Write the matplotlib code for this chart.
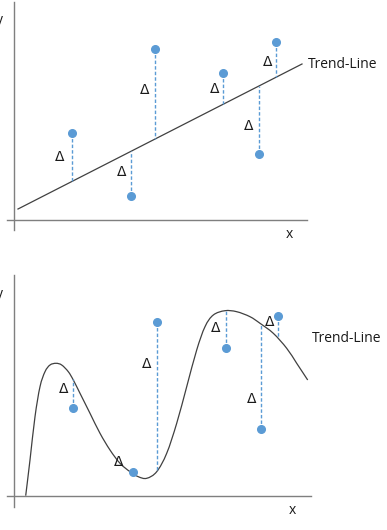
import numpy as np
import matplotlib
matplotlib.use("Agg")
import matplotlib.pyplot as plt
from matplotlib.path import Path
from matplotlib.patches import PathPatch

plt.rcParams['font.family'] = ['Open Sans', 'DejaVu Sans']

# ---------------- data (diagram units = pixels, y downward) ----------------
# top panel: linear trend line
top_trend_x = [18, 302]
top_trend_y = [209, 64]
top_pts_x = [71.7, 131, 155, 223, 259, 276]
top_pts_y = [133, 196, 49, 73, 154, 42]
top_delta_x = [60, 122, 145, 215, 249, 268]
top_delta_y = [157, 172, 90, 89, 126, 62]

# bottom panel: curved trend line
bot_curve_x = [25.7, 30, 35, 40, 45, 50, 56, 61.7, 68.3, 73.3, 80, 90, 100, 110,
               120, 130, 138.3, 146.7, 156.7, 166.7, 176.7, 186.7, 196.7, 205,
               213.3, 225, 236.7, 250, 260, 273.3, 286.7, 296.7, 307.7]
bot_curve_y = [495.7, 460, 416.7, 386.7, 371.7, 365, 363.3, 365, 371.7, 380,
               393.3, 413.3, 433.3, 450, 463.3, 471.7, 476.7, 478.3, 471.7, 453.3,
               423.3, 386.7, 350, 326.7, 315, 310.7, 311.7, 316.7, 323.3, 333.3,
               348.3, 363.3, 380]
bot_pts_x = [72.7, 132.7, 156.7, 225.7, 261, 277.7]
bot_pts_y = [407.7, 471.7, 322.3, 347.7, 429, 315.7]
bot_delta_x = [63.3, 118.3, 146.7, 216, 251.7, 269.3]
bot_delta_y = [389, 461.7, 364, 328.3, 399, 321.7]

W, H = 387, 530
fig = plt.figure(figsize=(W / 100, H / 100), dpi=100)
ax = fig.add_axes([0, 0, 1, 1])
ax.set_xlim(0, W)
ax.set_ylim(H, 0)
ax.axis('off')

axis_col = '#7f7f7f'
trend_col = '#404040'
dot_col = '#5b9bd5'
txt_col = '#1a1a1a'
fs_delta = 10
fs_lab = 10
delta_font = ['DejaVu Sans']

def smooth_path(xs, ys):
    P = np.column_stack([xs, ys])
    n = len(P)
    verts = [P[0]]
    codes = [Path.MOVETO]
    for i in range(n - 1):
        p0 = P[i - 1] if i > 0 else P[i]
        p1 = P[i]
        p2 = P[i + 1]
        p3 = P[i + 2] if i + 2 < n else P[i + 1]
        c1 = p1 + (p2 - p0) / 6
        c2 = p2 - (p3 - p1) / 6
        verts += [c1, c2, p2]
        codes += [Path.CURVE4] * 3
    return Path(verts, codes)

# ---- top panel ----
ax.plot([14, 14], [2, 230], color=axis_col, lw=1)
ax.plot([7, 307], [220, 220], color=axis_col, lw=1)
ax.plot(top_trend_x, top_trend_y, color=trend_col, lw=0.9)
slope = (top_trend_y[1] - top_trend_y[0]) / (top_trend_x[1] - top_trend_x[0])
for px, py in zip(top_pts_x, top_pts_y):
    ty = top_trend_y[0] + slope * (px - top_trend_x[0])
    ax.plot([px, px], [py, ty], color=dot_col, lw=1, ls=(0, (2.5, 1.5)))
ax.plot(top_pts_x, top_pts_y, 'o', color=dot_col, ms=5.5, mec=dot_col)
for dx, dy in zip(top_delta_x, top_delta_y):
    ax.text(dx, dy, 'Δ', fontsize=fs_delta, ha='center', va='center',
            color=txt_col, family=delta_font)
ax.text(308, 64, 'Trend-Line', fontsize=fs_lab, ha='left', va='center', color=txt_col)
ax.text(289, 235, 'x', fontsize=fs_lab, ha='center', va='center', color=txt_col)
ax.text(-1, 21, 'y', fontsize=fs_lab, ha='center', va='center', color=txt_col)

# ---- bottom panel ----
ax.plot([14, 14], [275, 507], color=axis_col, lw=1)
ax.plot([7, 311], [495.7, 495.7], color=axis_col, lw=1)
ax.add_patch(PathPatch(smooth_path(bot_curve_x, bot_curve_y), fill=False,
                       edgecolor=trend_col, lw=0.9))
for px, py in zip(bot_pts_x, bot_pts_y):
    ty = np.interp(px, bot_curve_x, bot_curve_y)
    if abs(ty - py) > 3:
        ax.plot([px, px], [py, ty], color=dot_col, lw=1, ls=(0, (2.5, 1.5)))
ax.plot(bot_pts_x, bot_pts_y, 'o', color=dot_col, ms=5.5, mec=dot_col, zorder=5)
for dx, dy in zip(bot_delta_x, bot_delta_y):
    ax.text(dx, dy, 'Δ', fontsize=fs_delta, ha='center', va='center',
            color=txt_col, family=delta_font)
ax.text(312, 339, 'Trend-Line', fontsize=fs_lab, ha='left', va='center', color=txt_col)
ax.text(292, 510, 'x', fontsize=fs_lab, ha='center', va='center', color=txt_col)
ax.text(-1, 295, 'y', fontsize=fs_lab, ha='center', va='center', color=txt_col)

fig.savefig('out.png', dpi=100)
